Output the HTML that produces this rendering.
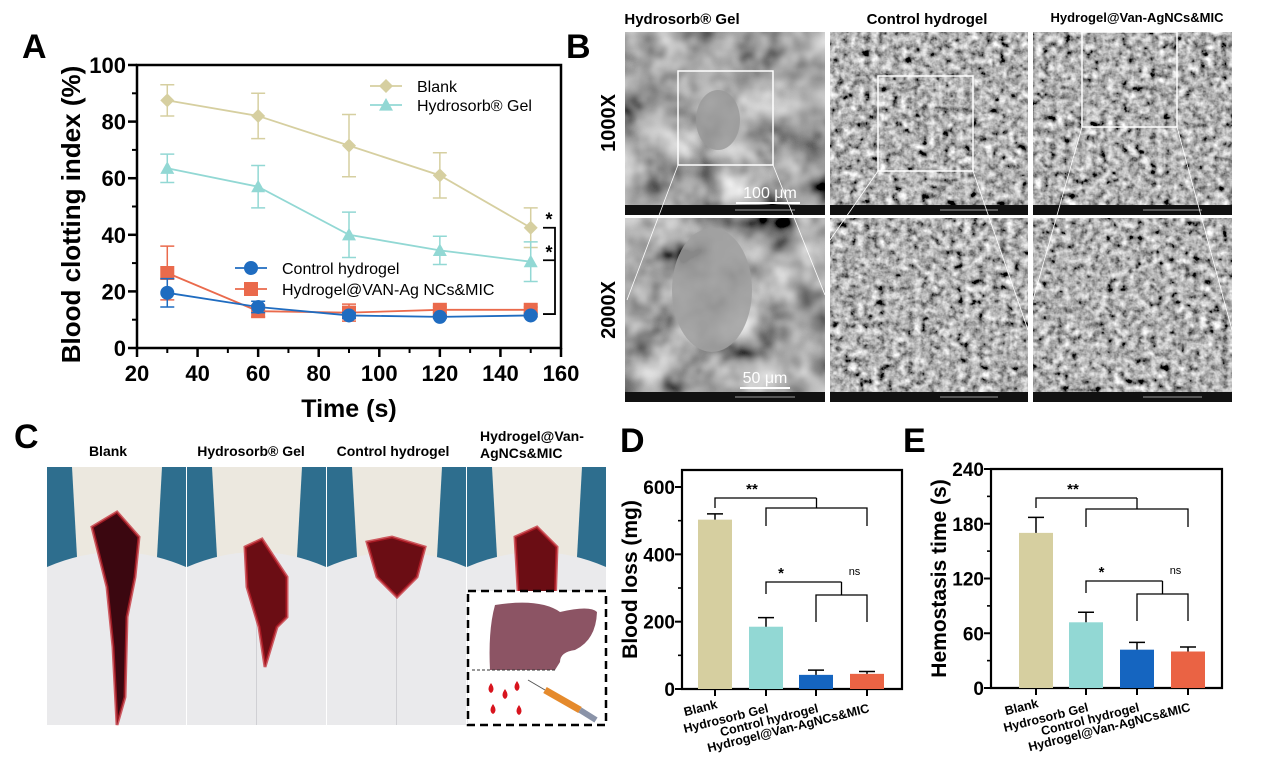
<!DOCTYPE html>
<html><head><meta charset="utf-8">
<style>
body{margin:0;background:#fff;width:1268px;height:761px;overflow:hidden;font-family:"Liberation Sans",Arial,sans-serif}
svg text{font-family:"Liberation Sans",Arial,sans-serif}
</style></head>
<body>
<svg id="fig" width="1268" height="761" viewBox="0 0 1268 761" xmlns="http://www.w3.org/2000/svg">
<defs>
<filter id="sem" x="0" y="0" width="100%" height="100%">
<feTurbulence type="fractalNoise" baseFrequency="0.14" numOctaves="3" seed="3"/>
<feColorMatrix type="matrix" values="0.33 0.33 0.33 0 0  0.33 0.33 0.33 0 0  0.33 0.33 0.33 0 0  0 0 0 0 1"/>
<feComponentTransfer><feFuncR type="linear" slope="2.6" intercept="-0.85"/><feFuncG type="linear" slope="2.6" intercept="-0.85"/><feFuncB type="linear" slope="2.6" intercept="-0.85"/></feComponentTransfer>
</filter>
<filter id="sem2" x="0" y="0" width="100%" height="100%">
<feTurbulence type="fractalNoise" baseFrequency="0.025" numOctaves="3" seed="7"/>
<feColorMatrix type="matrix" values="0.33 0.33 0.33 0 0  0.33 0.33 0.33 0 0  0.33 0.33 0.33 0 0  0 0 0 0 1"/>
<feComponentTransfer><feFuncR type="linear" slope="2.2" intercept="-0.7"/><feFuncG type="linear" slope="2.2" intercept="-0.7"/><feFuncB type="linear" slope="2.2" intercept="-0.7"/></feComponentTransfer>
</filter>
</defs>

<text x="22" y="58" font-size="34" font-weight="bold">A</text>
<text x="566" y="58" font-size="34" font-weight="bold">B</text>
<text x="14" y="448" font-size="34" font-weight="bold">C</text>
<text x="620" y="452" font-size="34" font-weight="bold">D</text>
<text x="903" y="452" font-size="34" font-weight="bold">E</text>

<g id="chartA"></g>

<g>
<text x="682" y="24" font-size="15" font-weight="bold" text-anchor="middle">Hydrosorb® Gel</text>
<text x="927" y="24" font-size="15" font-weight="bold" text-anchor="middle">Control hydrogel</text>
<text x="1137" y="22" font-size="13" font-weight="bold" text-anchor="middle">Hydrogel@Van-AgNCs&amp;MIC</text>
<text transform="translate(615,123) rotate(-90)" font-size="20" font-weight="bold" text-anchor="middle">1000X</text>
<text transform="translate(615,310) rotate(-90)" font-size="20" font-weight="bold" text-anchor="middle">2000X</text>
<g id="semTiles"></g>
</g>

<g>
<text x="108" y="456" font-size="14" font-weight="bold" text-anchor="middle">Blank</text>
<text x="251" y="456" font-size="14" font-weight="bold" text-anchor="middle">Hydrosorb® Gel</text>
<text x="393" y="456" font-size="14" font-weight="bold" text-anchor="middle">Control hydrogel</text>
<text x="480" y="441" font-size="14" font-weight="bold">Hydrogel@Van-</text>
<text x="480" y="458" font-size="14" font-weight="bold">AgNCs&amp;MIC</text>
<g id="photos"></g>
</g>

<g id="chartD"></g>
<g id="chartE"></g>
</svg>

<script>
// ---------- Chart A data ----------
const timesA = [30, 60, 90, 120, 150];
const blankA = [87.5, 82, 71.5, 61, 42.5];
const blankErrA = [5.5, 8, 11, 8, 7];
const hydrosorbA = [63.5, 57, 40, 34.5, 30.5];
const hydrosorbErrA = [5, 7.5, 8, 5, 7];
const controlA = [19.5, 14.5, 11.5, 11, 11.5];
const controlErrA = [5, 2, 1, 0.5, 0.5];
const hydrogelA = [26.5, 13, 12.5, 13.5, 13.5];
const hydrogelErrA = [9.5, 2, 3, 1, 1];
const xTicksA = [20, 40, 60, 80, 100, 120, 140, 160];
const yTicksA = [0, 20, 40, 60, 80, 100];

// ---------- Chart D/E data ----------
const groups = ['Blank', 'Hydrosorb Gel', 'Control hydrogel', 'Hydrogel@Van-AgNCs&MIC'];
const bloodLoss = [503, 185, 42, 45];
const bloodLossErr = [17, 27, 14, 7];
const bloodTicks = [0, 200, 400, 600];
const hemoTime = [170, 72, 42, 40];
const hemoErr = [17, 11, 8, 5];
const hemoTicks = [0, 60, 120, 180, 240];

const NS = 'http://www.w3.org/2000/svg';
function mk(parent, tag, attrs) {
  const e = document.createElementNS(NS, tag);
  for (const k in attrs) e.setAttribute(k, attrs[k]);
  parent.appendChild(e);
  return e;
}

(function(){
  const g = document.getElementById('chartA');
  const L = 137, R = 561, T = 65, B = 348;
  const x = v => L + (v - 20) / 140 * (R - L);
  const y = v => B - v / 100 * (B - T);
  let e = mk(g, 'path', {d:`M${L},${T}H${R}V${B}H${L}Z`, fill:'none', stroke:'#000', 'stroke-width':2.5});
   
  xTicksA.forEach((t, i) => {
    mk(g, 'line', {x1:x(t), x2:x(t), y1:B, y2:B+9, stroke:'#000', 'stroke-width':2.5});
    if (i < xTicksA.length - 1) mk(g, 'line', {x1:x(t+10), x2:x(t+10), y1:B, y2:B+5, stroke:'#000', 'stroke-width':2});
    const tx = mk(g, 'text', {x:x(t), y:B+33, 'font-size':22, 'font-weight':'bold', 'text-anchor':'middle'});
    tx.textContent = t;
     
  });
  yTicksA.forEach((t, i) => {
    mk(g, 'line', {x1:L-9, x2:L, y1:y(t), y2:y(t), stroke:'#000', 'stroke-width':2.5});
    if (i < yTicksA.length - 1) mk(g, 'line', {x1:L-5, x2:L, y1:y(t+10), y2:y(t+10), stroke:'#000', 'stroke-width':2});
    const tx = mk(g, 'text', {x:L-11, y:y(t)+8, 'font-size':22, 'font-weight':'bold', 'text-anchor':'end'});
    tx.textContent = t;
     
  });
  let t = mk(g, 'text', {x:(L+R)/2, y:417, 'font-size':25, 'font-weight':'bold', 'text-anchor':'middle'});
  t.textContent = 'Time (s)';
   
  t = mk(g, 'text', {transform:`translate(80,${(T+B)/2+8}) rotate(-90)`, 'font-size':26, 'font-weight':'bold', 'text-anchor':'middle'});
  t.textContent = 'Blood clotting index (%)';
   

  const series = [
    {v:blankA, e:blankErrA, c:'#d6cfa0', m:'diamond', n:'series-blank'},
    {v:hydrosorbA, e:hydrosorbErrA, c:'#92d8d4', m:'triangle', n:'series-hydrosorb'},
    {v:hydrogelA, e:hydrogelErrA, c:'#ea6a4c', m:'square', n:'series-hydrogel'},
    {v:controlA, e:controlErrA, c:'#1f6cc0', m:'circle', n:'series-control'}
  ];
  function marker(sg, m, cx, cy, c, s) {
    if (m === 'circle') return mk(sg, 'circle', {cx, cy, r:s, fill:c});
    if (m === 'square') return mk(sg, 'rect', {x:cx-s, y:cy-s, width:2*s, height:2*s, fill:c});
    if (m === 'diamond') return mk(sg, 'path', {d:`M${cx},${cy-s}L${cx+s},${cy}L${cx},${cy+s}L${cx-s},${cy}Z`, fill:c});
    return mk(sg, 'path', {d:`M${cx},${cy-s}L${cx+s},${cy+s*0.8}L${cx-s},${cy+s*0.8}Z`, fill:c});
  }
  series.forEach(s => {
    const sg = mk(g, 'g', {});
     
    mk(sg, 'polyline', {points:timesA.map((tt,i)=>`${x(tt)},${y(s.v[i])}`).join(' '), fill:'none', stroke:s.c, 'stroke-width':1.8});
    timesA.forEach((tt, i) => {
      const cx = x(tt);
      mk(sg, 'path', {d:`M${cx},${y(s.v[i]-s.e[i])}V${y(s.v[i]+s.e[i])}M${cx-7},${y(s.v[i]+s.e[i])}h14M${cx-7},${y(s.v[i]-s.e[i])}h14`, stroke:s.c, 'stroke-width':1.5, fill:'none'});
      const mm = marker(sg, s.m, cx, y(s.v[i]), s.c, 7);
       
    });
  });
  const leg = [
    {lx:386, ly:86, c:'#d6cfa0', m:'diamond', lab:'Blank'},
    {lx:386, ly:105, c:'#92d8d4', m:'triangle', lab:'Hydrosorb® Gel'},
    {lx:251, ly:268, c:'#1f6cc0', m:'circle', lab:'Control hydrogel'},
    {lx:251, ly:289, c:'#ea6a4c', m:'square', lab:'Hydrogel@VAN-Ag NCs&MIC'}
  ];
  leg.forEach(l => {
    const lg = mk(g, 'g', {});
     
    mk(lg, 'line', {x1:l.lx-16, x2:l.lx+16, y1:l.ly, y2:l.ly, stroke:l.c, 'stroke-width':1.8});
    marker(lg, l.m, l.lx, l.ly, l.c, 7);
    const tx = mk(lg, 'text', {x:l.lx+31, y:l.ly+6, 'font-size':16});
    tx.textContent = l.lab;
  });
  const bg = mk(g, 'g', {});
   
  mk(bg, 'path', {d:`M543,${y(42.5)}H555V${y(12)}H543M543,${y(31)}H555`, fill:'none', stroke:'#000', 'stroke-width':1.8});
  let s1 = mk(bg, 'text', {x:549, y:y(42.5)-2, 'font-size':18, 'font-weight':'bold', 'text-anchor':'middle'}); s1.textContent = '*';
  let s2 = mk(bg, 'text', {x:549, y:y(31)-2, 'font-size':18, 'font-weight':'bold', 'text-anchor':'middle'}); s2.textContent = '*';
})();

function barChart(id, vals, errs, ticks, ymax, box, ytitle, sig) {
  const g = document.getElementById(id);
  const {L, R, T, B, centers, yTop} = box;
  const y = v => B - v / ymax * (B - yTop);
  const colors = ['#d6cfa0', '#92d8d4', '#1565c0', '#ea6344'];
  mk(g, 'path', {d:`M${L},${T}H${R}V${B}H${L}Z`, fill:'none', stroke:'#000', 'stroke-width':2.2});
  ticks.forEach((t, i) => {
    mk(g, 'line', {x1:L-7, x2:L, y1:y(t), y2:y(t), stroke:'#000', 'stroke-width':2});
    if (i < ticks.length - 1) mk(g, 'line', {x1:L-4, x2:L, y1:y(t+ticks[1]/2), y2:y(t+ticks[1]/2), stroke:'#000', 'stroke-width':1.6});
    const tx = mk(g, 'text', {x:L-7, y:y(t)+7, 'font-size':19, 'font-weight':'bold', 'text-anchor':'end'});
    tx.textContent = t;
     
  });
  vals.forEach((v, i) => {
    const cx = centers[i];
    const r = mk(g, 'rect', {x:cx-17, y:y(v), width:34, height:B-y(v), fill:colors[i]});
     
    mk(g, 'path', {d:`M${cx},${y(v)}V${y(v+errs[i])}M${cx-8},${y(v+errs[i])}h16`, stroke:'#000', 'stroke-width':1.5, fill:'none'});
    mk(g, 'line', {x1:cx, x2:cx, y1:B, y2:B+7, stroke:'#000', 'stroke-width':2});
    const lx = cx + 3, ly = B + (i === 0 ? 19 : 23);
    const tx = mk(g, 'text', {x:lx, y:ly, 'font-size':12.5, 'font-weight':'bold', 'text-anchor':'end', transform:`rotate(-14 ${lx} ${ly})`});
    tx.textContent = groups[i];
     
  });
  const t = mk(g, 'text', {transform:`translate(${L-45},${(T+B)/2}) rotate(-90)`, 'font-size':21, 'font-weight':'bold', 'text-anchor':'middle'});
  t.textContent = ytitle;
   
  const c = centers;
  const sg = mk(g, 'g', {});
   
  const [a1, a2, b1, b2] = sig;
  mk(sg, 'path', {d:`M${c[1]},${a2+18}V${a2}H${c[3]}V${a2+18}M${(c[1]+c[3])/2},${a2}V${a1}M${c[0]},${a1+10}V${a1}H${(c[1]+c[3])/2}`, fill:'none', stroke:'#000', 'stroke-width':1.3});
  mk(sg, 'path', {d:`M${c[2]},${b2+27}V${b2}H${c[3]}V${b2+27}M${(c[2]+c[3])/2},${b2}V${b1}M${c[1]},${b1+12}V${b1}H${(c[2]+c[3])/2}`, fill:'none', stroke:'#000', 'stroke-width':1.3});
  let s = mk(sg, 'text', {x:c[0] + 37, y:a1-4, 'font-size':15, 'font-weight':'bold', 'text-anchor':'middle'}); s.textContent = '**';
  s = mk(sg, 'text', {x:(c[1]+c[2])/2 - 10, y:b1-4, 'font-size':15, 'font-weight':'bold', 'text-anchor':'middle'}); s.textContent = '*';
  s = mk(sg, 'text', {x:(c[2]+c[3])/2 + 13, y:b1-7, 'font-size':11, 'text-anchor':'middle'}); s.textContent = 'ns';
}
barChart('chartD', bloodLoss, bloodLossErr, bloodTicks, 600,
  {L:682, R:902, T:470, B:689, yTop:487, centers:[715, 766, 816, 867]}, 'Blood loss (mg)', [498, 508, 582, 595]);
barChart('chartE', hemoTime, hemoErr, hemoTicks, 240,
  {L:991, R:1222, T:469, B:688, yTop:469, centers:[1036, 1086, 1137, 1188]}, 'Hemostasis time (s)', [498, 509, 581, 594]);

(function(){
  const g = document.getElementById('semTiles');
  const cols = [[625, 825], [830, 1028], [1033, 1232]];
  const rows = [[32, 215], [218, 402]];
  rows.forEach((r, ri) => cols.forEach((c, ci) => {
    const tg = mk(g, 'g', {});
     
    mk(tg, 'rect', {x:c[0], y:r[0], width:c[1]-c[0], height:r[1]-r[0]-10, fill:'#666', filter: ci === 0 ? 'url(#sem2)' : 'url(#sem)'});
    mk(tg, 'rect', {x:c[0], y:r[1]-10, width:c[1]-c[0], height:10, fill:'#111'});
    mk(tg, 'line', {x1:c[0]+110, x2:c[1]-30, y1:r[1]-5, y2:r[1]-5, stroke:'#ccc', 'stroke-width':0.8});
  }));
  mk(g, 'ellipse', {cx:718, cy:120, rx:22, ry:30, fill:'#999', opacity:0.8});
  mk(g, 'ellipse', {cx:712, cy:290, rx:40, ry:62, fill:'#a0a0a0', opacity:0.85});
  mk(g, 'rect', {x:678, y:71, width:95, height:94, fill:'none', stroke:'#fff', 'stroke-width':1.5});
  mk(g, 'rect', {x:878, y:76, width:95, height:95, fill:'none', stroke:'#fff', 'stroke-width':1.5});
  mk(g, 'rect', {x:1082, y:32, width:95, height:95, fill:'none', stroke:'#fff', 'stroke-width':1.5});
  mk(g, 'path', {d:'M678,165L627,300M773,165L825,295M878,171L830,240M973,171L1028,330M1082,127L1033,300M1177,127L1232,330', stroke:'#fff', 'stroke-width':0.8, fill:'none'});
  mk(g, 'path', {d:'M736,203H800M740,388H790', stroke:'#fff', 'stroke-width':2});
  let t = mk(g, 'text', {x:770, y:198, 'font-size':16, fill:'#fff', 'text-anchor':'middle'}); t.textContent = '100 μm';
  t = mk(g, 'text', {x:765, y:383, 'font-size':16, fill:'#fff', 'text-anchor':'middle'}); t.textContent = '50 μm';
})();

(function(){
  const g = document.getElementById('photos');
  const cols = [47, 187, 327, 467];
  const T = 467, B = 725, W = 139;
  const blood = [
    'M45,60 L70,45 L92,70 L88,110 L80,150 L78,230 L70,258 L66,180 L60,120 Z',
    'M58,80 L75,72 L100,110 L100,150 L90,160 L78,200 L72,160 L60,120 Z',
    'M40,75 L65,70 L98,80 L90,110 L70,130 L50,110 Z',
    'M48,70 L70,60 L90,80 L88,140 L70,160 L52,140 Z'
  ];
  cols.forEach((x0, i) => {
    const pg = mk(g, 'g', {transform:`translate(${x0},${T})`});
     
    mk(pg, 'rect', {x:0, y:0, width:W, height:B-T, fill:'#2e6e8e'});
    mk(pg, 'path', {d:'M25,0 H115 L110,90 H30 Z', fill:'#ece8df'});
    mk(pg, 'path', {d:`M0,100 Q70,70 ${W},100 V${B-T} H0 Z`, fill:'#eaeaec'});
    mk(pg, 'line', {x1:W/2, y1:110, x2:W/2, y2:B-T, stroke:'#d0d0d4', 'stroke-width':1});
    mk(pg, 'path', {d:blood[i], fill: i === 0 ? '#3b0710' : '#6b0d14'});
    mk(pg, 'path', {d:blood[i], fill:'none', stroke:'#c0202a', 'stroke-width':3, opacity:0.7});
  });
  const ig = mk(g, 'g', {});
   
  mk(ig, 'rect', {x:468, y:591, width:138, height:134, fill:'#fff', stroke:'#000', 'stroke-width':2.5, 'stroke-dasharray':'8,5'});
  mk(ig, 'path', {d:'M495,605 Q540,598 560,612 Q590,605 597,612 Q596,640 575,650 Q560,652 560,662 L555,670 H490 Q488,630 495,605 Z', fill:'#8c5464'});
  mk(ig, 'line', {x1:472, y1:670, x2:557, y2:670, stroke:'#333', 'stroke-width':1, 'stroke-dasharray':'3,2'});
  [[491,690],[505,696],[517,688],[493,711],[519,712]].forEach(p => mk(ig, 'path', {d:`M${p[0]},${p[1]-7} Q${p[0]+5},${p[1]} ${p[0]},${p[1]+3} Q${p[0]-5},${p[1]} ${p[0]},${p[1]-7}Z`, fill:'#d8141e'}));
  mk(ig, 'path', {d:'M545,690 L580,710', stroke:'#e58a2c', 'stroke-width':7});
  mk(ig, 'path', {d:'M580,710 L596,720', stroke:'#8a93a8', 'stroke-width':6});
  mk(ig, 'path', {d:'M545,690 L528,680', stroke:'#555', 'stroke-width':1});
})();
</script>
</body></html>
